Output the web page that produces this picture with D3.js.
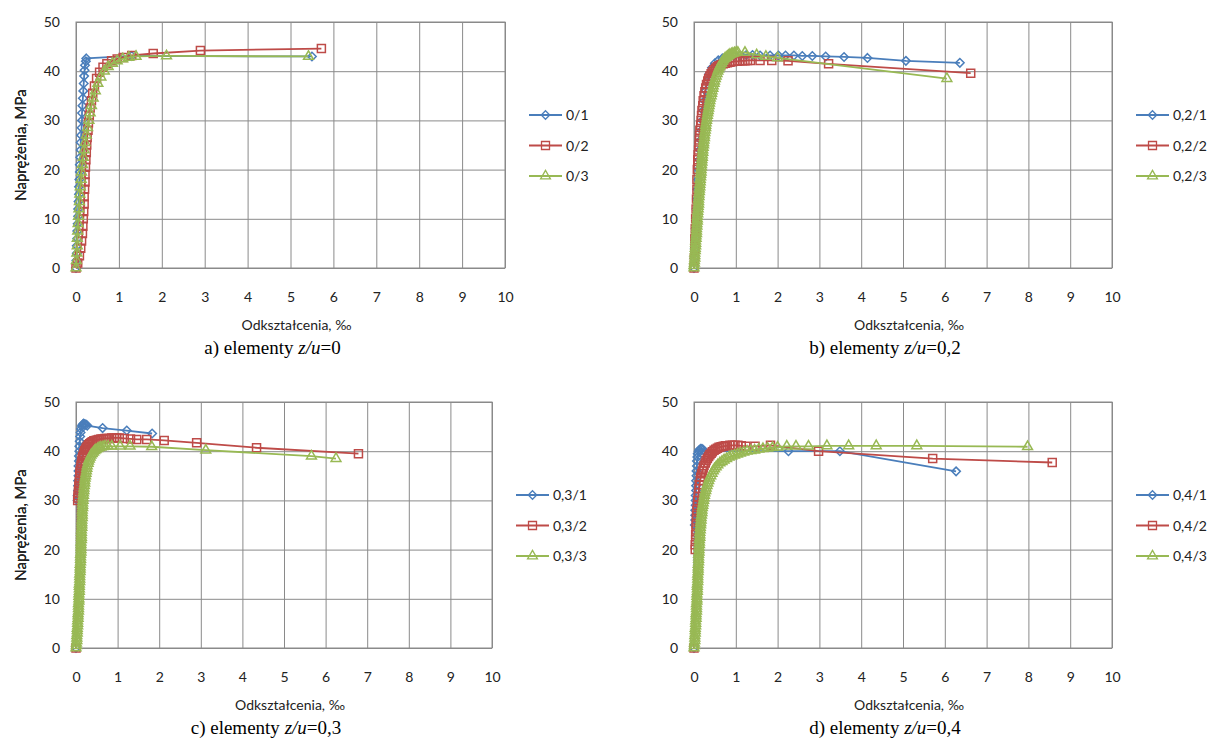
<!DOCTYPE html>
<html>
<head>
<meta charset="utf-8">
<script src="https://cdn.jsdelivr.net/npm/d3@7"></script>
<style>
  body { margin: 0; background: #fff; }
  svg { display: block; }
  .tick text { font-family: Lato, "Liberation Sans", sans-serif; font-size: 14px; fill: #222; }
</style>
</head>
<body>
<svg id="chart" width="1213" height="742"></svg>
<script>
// wartości (odkształcenie ‰, naprężenie MPa)
const xTicks = [0, 1, 2, 3, 4, 5, 6, 7, 8, 9, 10];
const yTicks = [0, 10, 20, 30, 40, 50];
const ratios = ["0", "0,2", "0,3", "0,4"];
const letters = ["a", "b", "c", "d"];
const namesA = ["0/1", "0/2", "0/3"];
const namesB = ["0,2/1", "0,2/2", "0,2/3"];
const namesC = ["0,3/1", "0,3/2", "0,3/3"];
const namesD = ["0,4/1", "0,4/2", "0,4/3"];

const a1 = [[0,0],[0.01,1.5],[0.02,3],[0.02,4.5],[0.03,6],[0.03,7.5],[0.04,9],[0.05,10.5],[0.05,12],[0.06,13.5],[0.07,15],[0.07,16.5],[0.08,18],[0.09,19.5],[0.09,21],[0.10,22.5],[0.11,24],[0.11,25.5],[0.12,27],[0.13,28.5],[0.14,30],[0.14,31.5],[0.15,33],[0.16,34.5],[0.17,36],[0.18,37.5],[0.19,39],[0.20,40.2],[0.21,41.2],[0.23,42],[0.24,42.6],[1.30,43.1],[5.50,43.0]];
const a2 = [[0,0],[0.04,1],[0.08,2.5],[0.11,4],[0.13,5.5],[0.15,7],[0.16,8.5],[0.17,10],[0.18,11.5],[0.19,13],[0.19,14.5],[0.20,16],[0.21,17.5],[0.21,19],[0.22,20.5],[0.23,22],[0.24,23.5],[0.25,25],[0.26,26.5],[0.28,28],[0.29,29.5],[0.31,31],[0.33,32.5],[0.36,34],[0.39,35.5],[0.43,37],[0.48,38.5],[0.55,39.8],[0.63,40.8],[0.72,41.5],[0.83,42.1],[0.96,42.5],[1.10,42.8],[1.30,43.2],[1.80,43.6],[2.90,44.2],[5.72,44.6]];
const a3 = [[0,0],[0.01,1.5],[0.02,3],[0.03,4.5],[0.03,6],[0.04,7.5],[0.05,9],[0.06,10.5],[0.07,12],[0.08,13.5],[0.09,15],[0.10,16.5],[0.12,18],[0.13,19.5],[0.15,21],[0.17,22.5],[0.19,24],[0.21,25.5],[0.24,27],[0.27,28.5],[0.30,30],[0.33,31.5],[0.36,33],[0.40,34.5],[0.45,36],[0.51,37.5],[0.58,38.8],[0.66,40],[0.75,40.9],[0.85,41.6],[0.96,42.1],[1.09,42.5],[1.23,42.8],[1.40,43.0],[2.11,43.1],[5.42,43.0]];

const b1 = [[0,0],[0.01,2],[0.02,4],[0.03,6],[0.04,8],[0.05,10],[0.06,12],[0.07,14],[0.08,16],[0.10,18],[0.11,20],[0.13,22],[0.14,24],[0.16,26],[0.18,28],[0.20,30],[0.22,32],[0.25,34],[0.28,36],[0.32,38],[0.37,39.5],[0.43,40.7],[0.50,41.6],[0.58,42.2],[0.68,42.6],[0.80,42.9],[0.95,43.1],[1.10,43.2],[1.25,43.3],[1.40,43.3],[1.58,43.2],[1.82,43.2],[2.02,43.2],[2.19,43.2],[2.39,43.2],[2.59,43.1],[2.83,43.1],[3.15,43.0],[3.59,42.9],[4.15,42.7],[5.07,42.1],[6.36,41.7]];
const b2 = [[0,0],[0.01,2],[0.02,4],[0.02,6],[0.03,8],[0.04,10],[0.05,12],[0.06,14],[0.07,16],[0.07,18],[0.08,20],[0.09,21],[0.09,22],[0.10,23],[0.11,24],[0.12,25],[0.13,26],[0.13,27],[0.14,28],[0.16,29],[0.17,30],[0.18,31],[0.19,32],[0.21,33],[0.22,34],[0.24,35],[0.26,35.8],[0.28,36.6],[0.30,37.3],[0.33,38],[0.35,38.5],[0.38,39],[0.41,39.5],[0.44,39.9],[0.48,40.3],[0.52,40.6],[0.56,40.9],[0.60,41.1],[0.65,41.3],[0.70,41.5],[0.75,41.6],[0.80,41.7],[0.86,41.8],[0.92,41.9],[0.98,42.0],[1.04,42.0],[1.10,42.1],[1.16,42.1],[1.22,42.1],[1.28,42.2],[1.35,42.2],[1.58,42.2],[1.86,42.2],[2.25,42.1],[3.22,41.5],[6.62,39.6]];
const b3 = [[0,0],[0,0.5],[0.01,1],[0.01,1.5],[0.02,2],[0.02,2.5],[0.02,3],[0.03,3.5],[0.03,4],[0.04,4.5],[0.04,5],[0.04,5.5],[0.05,6],[0.05,6.5],[0.06,7],[0.06,7.5],[0.06,8],[0.07,8.5],[0.07,9],[0.08,9.5],[0.08,10],[0.08,10.5],[0.09,11],[0.09,11.5],[0.10,12],[0.10,12.5],[0.11,13],[0.11,13.5],[0.11,14],[0.12,14.5],[0.12,15],[0.13,15.5],[0.13,16],[0.14,16.5],[0.14,17],[0.15,17.5],[0.15,18],[0.16,18.5],[0.16,19],[0.17,19.5],[0.17,20],[0.18,20.5],[0.18,21],[0.19,21.5],[0.19,22],[0.20,22.5],[0.20,23],[0.21,23.5],[0.21,24],[0.22,24.5],[0.23,25],[0.23,25.5],[0.24,26],[0.25,26.5],[0.25,27],[0.26,27.5],[0.27,28],[0.28,28.5],[0.28,29],[0.29,29.5],[0.30,30],[0.31,30.5],[0.32,31],[0.33,31.5],[0.34,32],[0.35,32.5],[0.36,33],[0.37,33.5],[0.38,34],[0.39,34.5],[0.41,35],[0.42,35.5],[0.43,36],[0.45,36.5],[0.46,37],[0.48,37.5],[0.49,38],[0.51,38.5],[0.53,39],[0.55,39.5],[0.57,40],[0.59,40.4],[0.61,40.8],[0.63,41.2],[0.66,41.6],[0.68,42.0],[0.71,42.3],[0.74,42.6],[0.77,42.8],[0.80,43.0],[0.83,43.2],[0.86,43.4],[0.90,43.5],[0.93,43.6],[0.97,43.7],[1.01,43.8],[1.05,43.8],[1.22,43.8],[1.50,43.3],[1.72,43.0],[2.00,42.7],[6.05,38.5]];

const c1 = [[0,0],[0.04,30],[0.04,31],[0.05,32],[0.05,33],[0.05,34],[0.06,35],[0.06,36],[0.06,37],[0.07,38],[0.07,39],[0.08,40],[0.08,41],[0.09,42],[0.10,43],[0.11,43.8],[0.12,44.5],[0.14,45.1],[0.16,45.4],[0.18,45.6],[0.21,45.5],[0.24,45.4],[0.27,45.2],[0.64,44.7],[1.22,44.2],[1.83,43.6]];
const c2 = [[0,0],[0.04,30],[0.05,30.5],[0.05,31],[0.06,31.5],[0.06,32],[0.07,32.5],[0.07,33],[0.08,33.5],[0.08,34],[0.09,34.5],[0.09,35],[0.10,35.5],[0.10,36],[0.11,36.5],[0.12,37],[0.13,37.5],[0.14,38],[0.15,38.5],[0.16,38.9],[0.18,39.3],[0.19,39.7],[0.21,40.1],[0.23,40.4],[0.25,40.7],[0.27,41.0],[0.30,41.3],[0.33,41.5],[0.36,41.7],[0.39,41.9],[0.43,42.1],[0.47,42.2],[0.51,42.3],[0.55,42.4],[0.60,42.5],[0.65,42.5],[0.70,42.6],[0.75,42.6],[0.80,42.6],[0.86,42.7],[0.92,42.7],[0.98,42.7],[1.04,42.7],[1.16,42.6],[1.31,42.5],[1.46,42.4],[1.70,42.4],[2.12,42.2],[2.90,41.7],[4.34,40.7],[6.79,39.5]];
const c3 = [[0,0],[0.01,0.5],[0.01,1],[0.02,1.5],[0.02,2],[0.02,2.5],[0.03,3],[0.03,3.5],[0.03,4],[0.04,4.5],[0.04,5],[0.04,5.5],[0.05,6],[0.05,6.5],[0.05,7],[0.06,7.5],[0.06,8],[0.06,8.5],[0.06,9],[0.07,9.5],[0.07,10],[0.07,10.5],[0.07,11],[0.08,11.5],[0.08,12],[0.08,12.5],[0.08,13],[0.09,13.5],[0.09,14],[0.09,14.5],[0.09,15],[0.10,15.5],[0.10,16],[0.10,16.5],[0.10,17],[0.11,17.5],[0.11,18],[0.11,18.5],[0.11,19],[0.12,19.5],[0.12,20],[0.12,20.5],[0.12,21],[0.12,21.5],[0.13,22],[0.13,22.5],[0.13,23],[0.13,23.5],[0.13,24],[0.14,24.5],[0.14,25],[0.14,25.5],[0.14,26],[0.15,26.5],[0.15,27],[0.15,27.5],[0.15,28],[0.16,28.5],[0.16,29],[0.16,29.5],[0.17,30],[0.17,30.5],[0.18,31],[0.18,31.5],[0.19,32],[0.19,32.5],[0.20,33],[0.21,33.5],[0.21,34],[0.22,34.5],[0.23,35],[0.24,35.5],[0.25,36],[0.26,36.5],[0.27,37],[0.29,37.5],[0.30,38],[0.32,38.4],[0.34,38.8],[0.36,39.2],[0.39,39.5],[0.42,39.8],[0.45,40.1],[0.48,40.3],[0.52,40.5],[0.56,40.7],[0.60,40.8],[0.65,40.9],[0.70,41.0],[0.77,41.0],[0.86,41.0],[1.06,41.0],[1.30,41.0],[1.82,40.9],[3.12,40.2],[5.66,39.0],[6.25,38.5]];

const d1 = [[0,0],[0.02,25],[0.03,26],[0.03,27],[0.03,28],[0.04,29],[0.04,30],[0.04,31],[0.05,32],[0.05,33],[0.05,34],[0.06,35],[0.06,36],[0.07,37],[0.07,38],[0.08,38.8],[0.09,39.5],[0.11,40.0],[0.13,40.3],[0.16,40.5],[0.19,40.5],[0.22,40.3],[0.25,40.0],[2.26,40.0],[3.49,40.0],[6.27,35.9]];
const d2 = [[0,0],[0.03,20],[0.03,21],[0.04,22],[0.04,23],[0.05,24],[0.05,25],[0.06,26],[0.06,27],[0.07,28],[0.08,29],[0.09,30],[0.10,30.8],[0.11,31.6],[0.12,32.4],[0.13,33.2],[0.15,34],[0.16,34.7],[0.18,35.4],[0.20,36],[0.22,36.6],[0.24,37.1],[0.27,37.6],[0.29,38.1],[0.32,38.5],[0.35,38.9],[0.38,39.3],[0.41,39.6],[0.44,39.9],[0.48,40.2],[0.52,40.4],[0.56,40.6],[0.60,40.8],[0.65,40.9],[0.70,41.0],[0.75,41.1],[0.80,41.1],[0.86,41.2],[0.92,41.2],[0.98,41.2],[1.05,41.2],[1.13,41.1],[1.24,41.0],[1.46,41.0],[1.83,41.2],[2.98,40.0],[5.71,38.5],[8.57,37.7]];
const d3s = [[0,0],[0.01,0.5],[0.01,1],[0.02,1.5],[0.02,2],[0.02,2.5],[0.03,3],[0.03,3.5],[0.03,4],[0.04,4.5],[0.04,5],[0.04,5.5],[0.05,6],[0.05,6.5],[0.05,7],[0.06,7.5],[0.06,8],[0.06,8.5],[0.06,9],[0.07,9.5],[0.07,10],[0.07,10.5],[0.07,11],[0.08,11.5],[0.08,12],[0.08,12.5],[0.08,13],[0.09,13.5],[0.09,14],[0.09,14.5],[0.09,15],[0.10,15.5],[0.10,16],[0.10,16.5],[0.10,17],[0.11,17.5],[0.11,18],[0.11,18.5],[0.11,19],[0.12,19.5],[0.12,20],[0.12,20.5],[0.13,21],[0.13,21.5],[0.13,22],[0.14,22.5],[0.14,23],[0.14,23.5],[0.15,24],[0.15,24.5],[0.16,25],[0.16,25.5],[0.17,26],[0.17,26.5],[0.18,27],[0.19,27.5],[0.19,28],[0.20,28.5],[0.21,29],[0.22,29.5],[0.23,30],[0.24,30.5],[0.25,31],[0.26,31.5],[0.28,32],[0.29,32.5],[0.31,33],[0.33,33.5],[0.35,34],[0.37,34.5],[0.40,35],[0.43,35.5],[0.46,36],[0.49,36.4],[0.53,36.8],[0.57,37.2],[0.62,37.6],[0.67,37.9],[0.72,38.2],[0.78,38.5],[0.84,38.8],[0.90,39.0],[0.97,39.2],[1.04,39.4],[1.11,39.6],[1.19,39.8],[1.27,40.0],[1.36,40.1],[1.45,40.2],[1.55,40.4],[1.65,40.5],[1.76,40.6],[1.88,40.7],[2.00,40.8],[2.22,41.0],[2.44,41.0],[2.74,41.0],[3.18,41.1],[3.70,41.1],[4.36,41.1],[5.33,41.1],[7.98,40.9]];

const colors = ["#4A7EBB", "#BE4B48", "#98B954"];

var diamond = {
  draw: function (ctx, size) {
    var r = Math.sqrt(size) / 2;
    ctx.moveTo(0, -r); ctx.lineTo(r, 0); ctx.lineTo(0, r); ctx.lineTo(-r, 0); ctx.closePath();
  }
};
var markers = [
  d3.symbol().type(diamond).size(72),
  d3.symbol().type(d3.symbolSquare).size(64),
  d3.symbol().type(d3.symbolTriangle).size(42)
];

// układ paneli
var panels = [
  { left: 76, top: 22, right: 505, bottom: 268, series: [a1, a2, a3], names: namesA },
  { left: 694, top: 22, right: 1112, bottom: 268, series: [b1, b2, b3], names: namesB },
  { left: 76, top: 402, right: 492, bottom: 648, series: [c1, c2, c3], names: namesC },
  { left: 694, top: 402, right: 1112, bottom: 648, series: [d1, d2, d3s], names: namesD }
];

var svg = d3.select("#chart");

panels.forEach(function (p, k) {
  var x = d3.scaleLinear().domain([0, 10]).range([p.left, p.right]);
  var y = d3.scaleLinear().domain([0, 50]).range([p.bottom, p.top]);
  var g = svg.append("g");

  // siatka i podziałki
  g.append("g")
    .attr("transform", "translate(0," + p.bottom + ")")
    .call(d3.axisBottom(x).tickValues(xTicks).tickSize(p.top - p.bottom).tickPadding(24))
    .call(function (a) { a.select(".domain").remove(); })
    .call(function (a) { a.selectAll("line").attr("stroke", "#8a8a8a"); });
  g.append("g")
    .attr("transform", "translate(" + p.left + ",0)")
    .call(d3.axisLeft(y).tickValues(yTicks).tickSize(p.left - p.right).tickPadding(16))
    .call(function (a) { a.select(".domain").remove(); })
    .call(function (a) { a.selectAll("line").attr("stroke", "#8a8a8a"); });
  g.append("rect")
    .attr("x", p.left).attr("y", p.top)
    .attr("width", p.right - p.left).attr("height", p.bottom - p.top)
    .attr("fill", "none").attr("stroke", "#8a8a8a");

  var line = d3.line().x(function (d) { return x(d[0]); }).y(function (d) { return y(d[1]); });

  p.series.forEach(function (s, i) {
    g.append("path").datum(s)
      .attr("d", line)
      .attr("fill", "none")
      .attr("stroke", colors[i])
      .attr("stroke-width", 1.8);
    g.selectAll("path.m" + i)
      .data(s)
      .enter()
      .append("path")
      .attr("class", "m" + i)
      .attr("d", markers[i])
      .attr("transform", function (d) { return "translate(" + x(d[0]) + "," + y(d[1]) + ")"; })
      .attr("fill", "none")
      .attr("stroke", colors[i])
      .attr("stroke-width", 1.5);
  });

  // legenda
  var leg = g.append("g").attr("transform", "translate(" + (p.right + 24) + "," + (p.top + 93) + ")");
  p.names.forEach(function (n, i) {
    var row = leg.append("g").attr("transform", "translate(0," + i * 30.5 + ")");
    row.append("line").attr("x1", 0).attr("x2", 33).attr("y1", 0).attr("y2", 0)
      .attr("stroke", colors[i]).attr("stroke-width", 1.8);
    row.append("path").attr("d", markers[i]).attr("transform", "translate(16.5,0)")
      .attr("fill", "none").attr("stroke", colors[i]).attr("stroke-width", 1.3);
    row.append("text").attr("x", 37).attr("y", 5)
      .style("font-family", "Lato, sans-serif").style("font-size", "14px").style("fill", "#222")
      .text(n);
  });

  // opisy osi
  g.append("text")
    .attr("transform", "translate(21," + (p.top + p.bottom) / 2 + ") rotate(-90)")
    .attr("text-anchor", "middle").attr("dy", "0.35em")
    .style("font-family", "Lato, sans-serif").style("font-size", "15px").style("fill", "#222")
    .text("Naprężenia, MPa");
  g.append("text")
    .attr("x", (p.left + p.right) / 2 + 6).attr("y", p.bottom + 62)
    .attr("text-anchor", "middle")
    .style("font-family", "Lato, sans-serif").style("font-size", "14px").style("fill", "#222")
    .text("Odkształcenia, ‰");

  var cap = g.append("text")
    .attr("x", (p.left + p.right) / 2 - 18).attr("y", p.bottom + 86)
    .attr("text-anchor", "middle")
    .style("font-family", "'Liberation Serif', serif").style("font-size", "19px").style("fill", "#000");
  cap.append("tspan").text(letters[k] + ") elementy ");
  cap.append("tspan").style("font-style", "italic").text("z/u");
  cap.append("tspan").text("=" + ratios[k]);
});
</script>
</body>
</html>
